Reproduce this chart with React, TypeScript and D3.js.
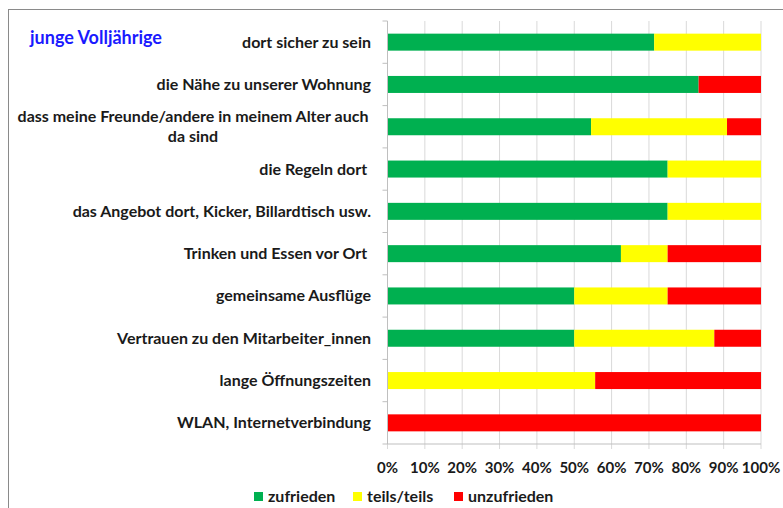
import React from "react";
import * as d3 from "d3";

const categories = [
  "dort sicher zu sein",
  "die Nähe zu unserer Wohnung",
  "dass meine Freunde/andere in meinem Alter auch|da sind",
  "die Regeln dort ",
  "das Angebot dort, Kicker, Billardtisch usw.",
  "Trinken und Essen vor Ort ",
  "gemeinsame Ausflüge",
  "Vertrauen zu den Mitarbeiter_innen",
  "lange Öffnungszeiten",
  "WLAN, Internetverbindung",
];
const zufrieden = [71.4, 83.3, 54.5, 75, 75, 62.5, 50, 50, 0, 0];
const teilsTeils = [28.6, 0, 36.4, 25, 25, 12.5, 25, 37.5, 55.6, 0];
const unzufrieden = [0, 16.7, 9.1, 0, 0, 25, 25, 12.5, 44.4, 100];
const seriesNames = ["zufrieden", "teils/teils", "unzufrieden"];
const seriesColors = ["#00B050", "#FFFF00", "#FF0000"];
const xTicks = [0, 10, 20, 30, 40, 50, 60, 70, 80, 90, 100];

const W = 783,
  H = 508;
const plot = { left: 387.5, right: 761, top: 21, bottom: 444 };
const font = "Lato, 'Open Sans', sans-serif";

export default function App() {
  const rows = categories.map((c, i) => ({
    cat: c,
    "zufrieden": zufrieden[i],
    "teils/teils": teilsTeils[i],
    "unzufrieden": unzufrieden[i],
  }));
  const stacked = d3.stack<any>().keys(seriesNames)(rows);

  const x = d3.scaleLinear().domain([0, 100]).range([plot.left, plot.right]);
  const y = d3
    .scaleBand()
    .domain(categories)
    .range([plot.top, plot.bottom]);
  const bandEdges = categories.map((c) => y(c) as number).concat([plot.bottom]);
  const mid = (i: number) => (y(categories[i]) as number) + y.bandwidth() / 2;

  const legendX = [254, 353, 454];

  return (
    <div style={{ position: "absolute", left: 0, top: 0 }}>
      <svg width={W} height={H} style={{ display: "block", background: "#fff" }}>
        <rect x={8.5} y={9.5} width={W} height={H} fill="none" stroke="#8a8a8a" strokeWidth={1} />

        {/* grid */}
        {xTicks.map((t) => (
          <line key={t} x1={x(t)} x2={x(t)} y1={plot.top} y2={plot.bottom + 5} stroke="#d9d9d9" strokeWidth={1} />
        ))}

        {/* bars */}
        {stacked.map((s, si) => (
          <g key={s.key} fill={seriesColors[si]}>
            {s.map((d, i) =>
              d[1] - d[0] > 0 ? (
                <rect key={i} x={x(d[0])} width={x(d[1]) - x(d[0])} y={mid(i) - 8.5} height={17} />
              ) : null
            )}
          </g>
        ))}

        {/* axes */}
        <line x1={plot.left} x2={plot.left} y1={plot.top} y2={plot.bottom} stroke="#bfbfbf" />
        {bandEdges.map((e, i) => (
          <line key={i} x1={plot.left - 5} x2={plot.left} y1={e} y2={e} stroke="#bfbfbf" />
        ))}
        <line x1={plot.left} x2={plot.right} y1={plot.bottom} y2={plot.bottom} stroke="#bfbfbf" />

        {/* x tick labels */}
        {xTicks.map((t) => (
          <text
            key={t}
            x={x(t)}
            y={473}
            textAnchor="middle"
            fontFamily={font}
            fontWeight="bold"
            fontSize={15}
            fill="#1a1a1a"
          >
            {t}%
          </text>
        ))}

        {/* category labels */}
        {categories.map((c, i) => {
          const lines = c.split("|");
          const cy = mid(i);
          const lh = 20;
          return (
            <text key={c} fontFamily={font} fontWeight="bold" fontSize={16} fill="#1a1a1a" style={{ whiteSpace: "pre" }}>
              {lines.length === 1 ? (
                <tspan x={371} y={cy + 5.5} textAnchor="end">
                  {c}
                </tspan>
              ) : (
                lines.map((l, li) => (
                  <tspan key={li} x={193} y={cy + 5.5 + (li - (lines.length - 1) / 2) * lh} textAnchor="middle">
                    {l}
                  </tspan>
                ))
              )}
            </text>
          );
        })}

        {/* title */}
        <text x={30} y={44} fontFamily={font} fontWeight="bold" fontSize={18} fill="#1a1aff">
          junge Volljährige
        </text>

        {/* legend */}
        {seriesNames.map((n, i) => (
          <g key={n}>
            <rect x={legendX[i]} y={492} width={9} height={9} fill={seriesColors[i]} />
            <text x={legendX[i] + 14} y={501.5} fontFamily={font} fontWeight="bold" fontSize={16} fill="#1a1a1a">
              {n}
            </text>
          </g>
        ))}
      </svg>
    </div>
  );
}
